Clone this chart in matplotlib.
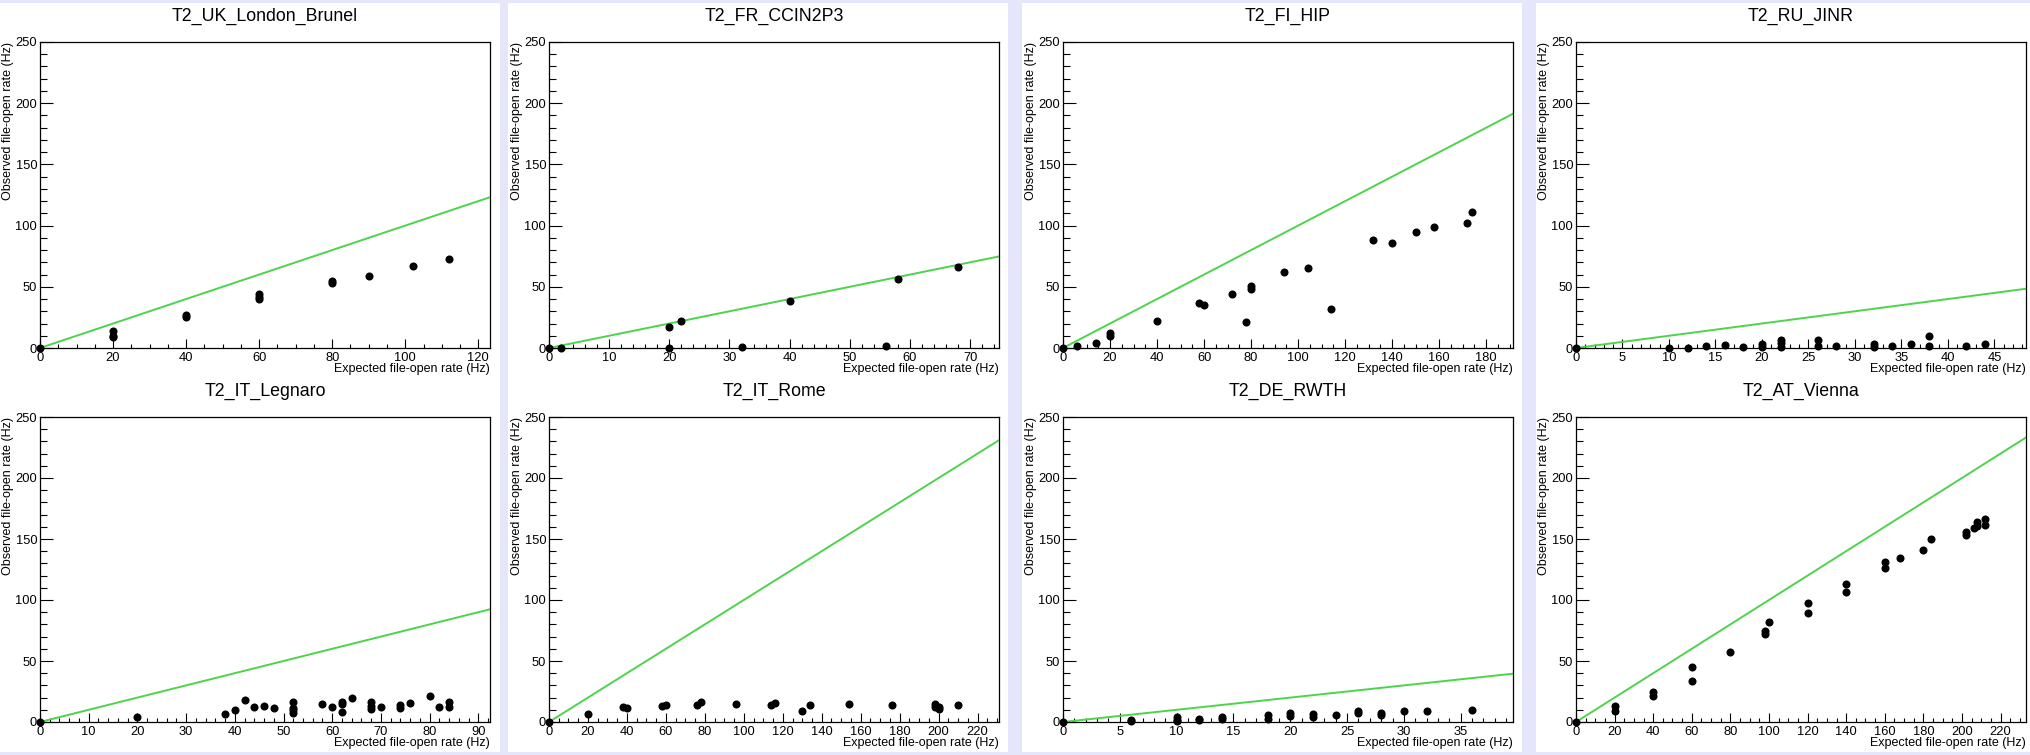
import matplotlib
matplotlib.use('Agg')
import matplotlib.pyplot as plt
from matplotlib.patches import Rectangle
from matplotlib.ticker import MultipleLocator

plt.rcParams['font.family'] = ['Liberation Sans', 'DejaVu Sans']

# ---------------- data ----------------
sites = ["T2_UK_London_Brunel", "T2_FR_CCIN2P3", "T2_FI_HIP", "T2_RU_JINR",
         "T2_IT_Legnaro", "T2_IT_Rome", "T2_DE_RWTH", "T2_AT_Vienna"]

uk_x = [0, 20, 20, 20, 40, 40, 60, 60, 60, 80, 80, 90, 102, 112]
uk_y = [0, 14, 10, 9, 27, 25, 44, 42, 40, 55, 53, 59, 67, 73]

fr_x = [0, 2, 20, 20, 22, 32, 40, 56, 58, 68]
fr_y = [0, 0, 0, 17, 22, 0.5, 38, 1.5, 56, 66.5]

fi_x = [0, 6, 14, 20, 20, 40, 58, 60, 72, 78, 80, 80, 94, 104, 114, 132, 140, 150, 158, 172, 174]
fi_y = [0, 1.5, 4, 12, 10, 22, 36.5, 35, 44, 21, 51, 48.5, 62, 65, 32, 88.5, 86, 95, 99, 102, 111]

ru_x = [0, 10, 12, 14, 16, 18, 20, 20, 22, 22, 22, 26, 26, 28, 32, 32, 34, 36, 38, 38, 42, 44]
ru_y = [0, 0, 0, 1.4, 2.7, 0.8, 3, 0.5, 6.3, 4, 0.5, 6.8, 1.5, 1.6, 3, 1, 1.3, 3, 10, 2, 2, 3]

le_x = [0, 20, 38, 40, 42, 44, 46, 48, 52, 52, 52, 52, 58, 60, 62, 62, 62, 64, 68, 68, 68,
        70, 74, 74, 76, 80, 82, 84, 84]
le_y = [0, 3.8, 6.5, 10, 18, 12, 13.4, 11.4, 16.6, 11.7, 10, 7, 14.7, 12.5, 16, 14.5, 7.9,
        19.4, 16, 13, 11, 12.5, 14, 11.5, 15.3, 21.3, 12, 16.6, 12]

ro_x = [0, 20, 38, 40, 58, 60, 76, 78, 96, 114, 116, 130, 134, 154, 176, 198, 198, 200, 200, 210]
ro_y = [0, 6.3, 12.3, 11.5, 13.1, 13.9, 13.9, 16.1, 14.4, 14.2, 15.3, 9.3, 13.9, 14.4, 13.9,
        15, 12, 11, 12, 13.9]

de_x = [0, 6, 6, 10, 10, 10, 12, 12, 14, 14, 18, 18, 20, 20, 22, 22, 24, 26, 26, 28, 28, 30, 32, 36]
de_y = [0, 2, 1, 4.5, 2, 0.5, 2.7, 1.4, 4, 2.3, 5.5, 2.7, 7.4, 4.6, 6.6, 3.8, 6, 9, 7.4, 7.6,
        6, 9.4, 9.4, 10.1]

at_x = [0, 20, 20, 40, 40, 60, 60, 80, 98, 98, 100, 120, 120, 140, 140, 160, 160, 168, 180,
        184, 202, 202, 206, 208, 208, 212, 212]
at_y = [0, 13.4, 8.8, 24.6, 21.4, 44.9, 34, 57, 74.5, 72, 81.6, 97.5, 89.5, 113.4, 106.2,
        130.9, 126.5, 134.2, 141.3, 150, 155.5, 153.4, 158.8, 163.7, 160.7, 166.2, 161.8]

xs = [uk_x, fr_x, fi_x, ru_x, le_x, ro_x, de_x, at_x]
ys = [uk_y, fr_y, fi_y, ru_y, le_y, ro_y, de_y, at_y]

x_major = [20, 10, 20, 5, 10, 20, 5, 20]
x_minor = [5, 2, 5, 1, 2, 5, 1, 5]

xlabel = "Expected file-open rate (Hz)"
ylabel = "Observed file-open rate (Hz)"

# ---------------- layout (pixels) ----------------
W, H = 2030, 755
fig = plt.figure(figsize=(W / 100, H / 100), dpi=100, facecolor='#e6e6fa')

panel_cols = [(0, 500), (508, 1008), (1022, 1522), (1536, 2030)]
panel_rows = [(3, 380), (380, 752)]
axes_cols = [(40, 490), (549, 999), (1063, 1513), (1576, 2026)]
axes_rows = [(42, 348), (417, 722)]

for (r0, r1) in panel_rows:
    for (c0, c1) in panel_cols:
        fig.add_artist(Rectangle((c0 / W, 1 - r1 / H), (c1 - c0) / W, (r1 - r0) / H,
                                 transform=fig.transFigure, facecolor='white',
                                 edgecolor='none', zorder=0))

green = '#4cd44c'
px = 0.72  # points per pixel

for i, name in enumerate(sites):
    r, c = divmod(i, 4)
    (t, b), (l, rr) = axes_rows[r], axes_cols[c]
    ax = fig.add_axes([l / W, 1 - b / H, (rr - l) / W, (b - t) / H])
    ax.set_facecolor('white')
    xmax = 1.1 * max(xs[i])
    ax.set_xlim(0, xmax)
    ax.set_ylim(0, 250)
    ax.plot([0, xmax], [0, xmax], color=green, lw=1.4, zorder=2)
    ax.plot(xs[i], ys[i], 'o', color='black', ms=5.8, mew=0, clip_on=False, zorder=4)

    ax.xaxis.set_major_locator(MultipleLocator(x_major[i]))
    ax.xaxis.set_minor_locator(MultipleLocator(x_minor[i]))
    ax.yaxis.set_major_locator(MultipleLocator(50))
    ax.yaxis.set_minor_locator(MultipleLocator(10))
    ax.tick_params(axis='both', which='both', direction='in', top=False, right=False,
                   width=0.8, labelsize=9.3, colors='black')
    ax.tick_params(axis='y', which='major', length=13 * px, pad=2)
    ax.tick_params(axis='y', which='minor', length=6.5 * px)
    ax.tick_params(axis='x', which='major', length=9 * px, pad=3)
    ax.tick_params(axis='x', which='minor', length=4.5 * px)
    for s in ax.spines.values():
        s.set_linewidth(0.9)
        s.set_color('black')

    ax.set_title(name, fontsize=12.8, pad=15)
    hgt = b - t
    wid = rr - l
    ax.text(1.0, -21 / hgt, xlabel, transform=ax.transAxes, ha='right', va='center',
            fontsize=9)
    ax.text(-32 / wid, 1.0, ylabel, transform=ax.transAxes, ha='center', va='top',
            rotation=90, fontsize=9)

fig.savefig('out.png', dpi=100, facecolor=fig.get_facecolor())
